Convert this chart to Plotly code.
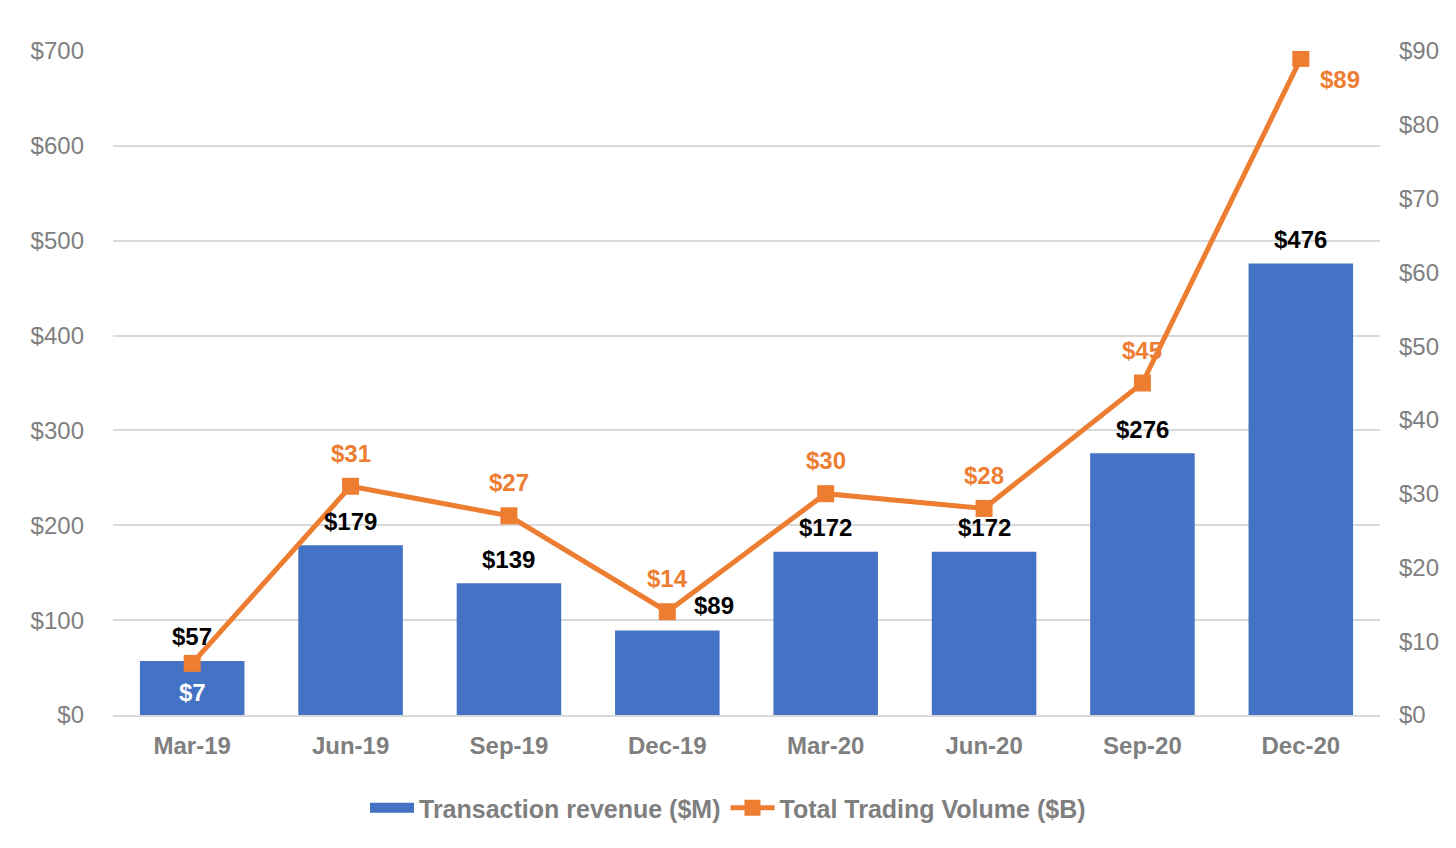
import plotly.graph_objects as go

quarters = ["Mar-19", "Jun-19", "Sep-19", "Dec-19", "Mar-20", "Jun-20", "Sep-20", "Dec-20"]
revenue = [57, 179, 139, 89, 172, 172, 276, 476]
volume = [7, 31, 27, 14, 30, 28, 45, 89]

left_ticks = [0, 100, 200, 300, 400, 500, 600, 700]
right_ticks = [0, 10, 20, 30, 40, 50, 60, 70, 80, 90]

BLUE = "#4472C4"
ORANGE = "#ED7D31"
GRAY = "#7F7F7F"
FONT = "Liberation Sans, Arial, sans-serif"

# label offsets (pixels): (xshift, yshift)
bar_label_off = [(0, 24), (0, 24), (0, 24), (47, 25), (0, 24), (0, 24), (0, 24), (0, 24)]
line_label_off = [(0, -29), (0, 33), (0, 33), (0, 33), (0, 33), (0, 33), (0, 33), (39, -21)]
line_label_col = ["white", ORANGE, ORANGE, ORANGE, ORANGE, ORANGE, ORANGE, ORANGE]

fig = go.Figure()
fig.add_trace(go.Bar(
    x=quarters, y=revenue, name="Transaction revenue ($M)",
    marker=dict(color=BLUE, line=dict(width=0)), yaxis="y", showlegend=False,
))
# legend-only entry for the bars (wide rectangle swatch)
fig.add_trace(go.Scatter(
    x=[quarters[0]], y=[None], name="<b>Transaction revenue ($M)</b>", mode="lines",
    line=dict(color=BLUE, width=14), yaxis="y", showlegend=True, hoverinfo="skip",
))
fig.add_trace(go.Scatter(
    x=quarters, y=volume, name="<b>Total Trading Volume ($B)</b>", mode="lines+markers",
    line=dict(color=ORANGE, width=5),
    marker=dict(symbol="square", size=17, color=ORANGE),
    yaxis="y2",
))

annotations = []
for q, v, (dx, dy) in zip(quarters, revenue, bar_label_off):
    annotations.append(dict(
        x=q, y=v, xref="x", yref="y", text=f"<b>${v}</b>", showarrow=False,
        xshift=dx, yshift=dy, font=dict(family=FONT, size=24, color="black"),
    ))
for q, v, (dx, dy), c in zip(quarters, volume, line_label_off, line_label_col):
    annotations.append(dict(
        x=q, y=v, xref="x", yref="y2", text=f"<b>${v}</b>", showarrow=False,
        xshift=dx, yshift=dy, font=dict(family=FONT, size=24, color=c),
    ))

fig.update_layout(
    width=1456, height=848,
    margin=dict(l=113, r=76, t=51, b=133, autoexpand=False),
    paper_bgcolor="white", plot_bgcolor="white",
    bargap=0.34,
    font=dict(family=FONT, color=GRAY),
    xaxis=dict(
        showgrid=False, showline=True, linecolor="#D9D9D9", linewidth=1.5,
        tickfont=dict(family=FONT, size=24, color=GRAY),
        ticklabelstandoff=8,
        tickvals=quarters, ticktext=[f"<b>{q}</b>" for q in quarters],
    ),
    yaxis=dict(
        range=[0, 700], tickvals=left_ticks, ticktext=[f"${t}" for t in left_ticks],
        showgrid=True, gridcolor="#D9D9D9", gridwidth=1.5, zeroline=False,
        showline=False, tickfont=dict(family=FONT, size=24, color=GRAY),
        ticklabelstandoff=28,
    ),
    yaxis2=dict(
        range=[0, 90], tickvals=right_ticks, ticktext=[f"${t}" for t in right_ticks],
        overlaying="y", side="right", showgrid=False, zeroline=False,
        showline=False, tickfont=dict(family=FONT, size=24, color=GRAY),
        ticklabelstandoff=18,
    ),
    legend=dict(
        orientation="h", x=0.5, xanchor="center", xref="container",
        y=40 / 848, yanchor="middle", yref="container",
        font=dict(family=FONT, size=25, color=GRAY), itemwidth=44,
        traceorder="normal", tracegroupgap=0,
    ),
    annotations=annotations,
    showlegend=True,
)

fig.write_html("out.html")
